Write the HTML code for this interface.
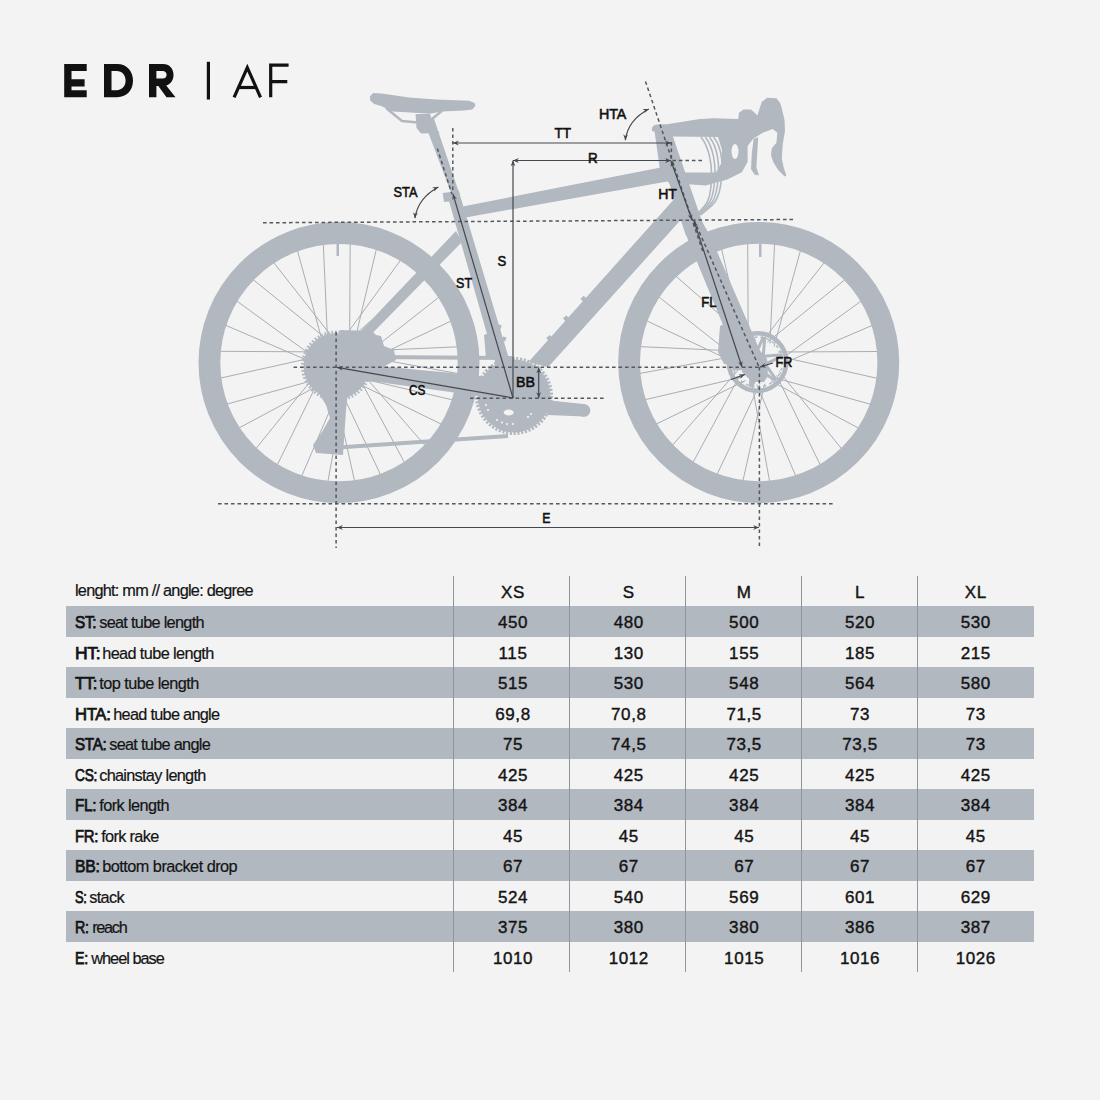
<!DOCTYPE html><html><head><meta charset="utf-8"><style>
html,body{margin:0;padding:0;background:#f3f3f3;}
body{width:1100px;height:1100px;position:relative;overflow:hidden;font-family:"Liberation Sans",sans-serif;color:#141414;}
.t{position:absolute;white-space:nowrap;}
.stripe{position:absolute;left:66px;width:968px;height:30.5px;background:#b1b8c0;}
.vl{position:absolute;top:576px;height:396px;width:1px;background:#8f959c;}
.lab{font-size:16.3px;letter-spacing:-0.95px;-webkit-text-stroke:0.2px #141414;}
.ab{font-size:16.5px;letter-spacing:-0.3px;-webkit-text-stroke:0.75px #141414;}
.num{font-size:17px;text-align:center;width:100px;letter-spacing:0.6px;-webkit-text-stroke:0.4px #141414;}
svg{position:absolute;left:0;top:0;}
</style></head><body>

<div class="stripe" style="top:606.0px"></div>
<div class="stripe" style="top:667.0px"></div>
<div class="stripe" style="top:728.0px"></div>
<div class="stripe" style="top:789.0px"></div>
<div class="stripe" style="top:850.0px"></div>
<div class="stripe" style="top:911.0px"></div>
<div class="vl" style="left:453px"></div>
<div class="vl" style="left:569px"></div>
<div class="vl" style="left:685px"></div>
<div class="vl" style="left:801px"></div>
<div class="vl" style="left:917px"></div>
<div class="t lab" style="left:75px;top:581px;letter-spacing:-0.754px">lenght: mm // angle: degree</div>
<div class="t num" style="left:463px;top:583px">XS</div>
<div class="t num" style="left:578.8px;top:583px">S</div>
<div class="t num" style="left:694.2px;top:583px">M</div>
<div class="t num" style="left:810px;top:583px">L</div>
<div class="t num" style="left:925.8px;top:583px">XL</div>
<div class="t lab ab" style="left:75px;top:613.0px;transform:scaleX(0.9280);transform-origin:0 0">ST:</div>
<div class="t lab" style="left:99.20px;top:613.0px;letter-spacing:-0.700px">seat tube length</div>
<div class="t num" style="left:463px;top:613.0px">450</div>
<div class="t num" style="left:578.8px;top:613.0px">480</div>
<div class="t num" style="left:694.2px;top:613.0px">500</div>
<div class="t num" style="left:810px;top:613.0px">520</div>
<div class="t num" style="left:925.8px;top:613.0px">530</div>
<div class="t lab ab" style="left:75px;top:643.5px;transform:scaleX(1.0604);transform-origin:0 0">HT:</div>
<div class="t lab" style="left:102.20px;top:643.5px;letter-spacing:-0.613px">head tube length</div>
<div class="t num" style="left:463px;top:643.5px">115</div>
<div class="t num" style="left:578.8px;top:643.5px">130</div>
<div class="t num" style="left:694.2px;top:643.5px">155</div>
<div class="t num" style="left:810px;top:643.5px">185</div>
<div class="t num" style="left:925.8px;top:643.5px">215</div>
<div class="t lab ab" style="left:75px;top:674.0px;transform:scaleX(1.0039);transform-origin:0 0">TT:</div>
<div class="t lab" style="left:99.20px;top:674.0px;letter-spacing:-0.543px">top tube length</div>
<div class="t num" style="left:463px;top:674.0px">515</div>
<div class="t num" style="left:578.8px;top:674.0px">530</div>
<div class="t num" style="left:694.2px;top:674.0px">548</div>
<div class="t num" style="left:810px;top:674.0px">564</div>
<div class="t num" style="left:925.8px;top:674.0px">580</div>
<div class="t lab ab" style="left:75px;top:704.5px;transform:scaleX(1.0093);transform-origin:0 0">HTA:</div>
<div class="t lab" style="left:113.20px;top:704.5px;letter-spacing:-0.707px">head tube angle</div>
<div class="t num" style="left:463px;top:704.5px">69,8</div>
<div class="t num" style="left:578.8px;top:704.5px">70,8</div>
<div class="t num" style="left:694.2px;top:704.5px">71,5</div>
<div class="t num" style="left:810px;top:704.5px">73</div>
<div class="t num" style="left:925.8px;top:704.5px">73</div>
<div class="t lab ab" style="left:75px;top:735.0px;transform:scaleX(0.9197);transform-origin:0 0">STA:</div>
<div class="t lab" style="left:109.20px;top:735.0px;letter-spacing:-0.700px">seat tube angle</div>
<div class="t num" style="left:463px;top:735.0px">75</div>
<div class="t num" style="left:578.8px;top:735.0px">74,5</div>
<div class="t num" style="left:694.2px;top:735.0px">73,5</div>
<div class="t num" style="left:810px;top:735.0px">73,5</div>
<div class="t num" style="left:925.8px;top:735.0px">73</div>
<div class="t lab ab" style="left:75px;top:765.5px;transform:scaleX(0.8305);transform-origin:0 0">CS:</div>
<div class="t lab" style="left:99.20px;top:765.5px;letter-spacing:-0.700px">chainstay length</div>
<div class="t num" style="left:463px;top:765.5px">425</div>
<div class="t num" style="left:578.8px;top:765.5px">425</div>
<div class="t num" style="left:694.2px;top:765.5px">425</div>
<div class="t num" style="left:810px;top:765.5px">425</div>
<div class="t num" style="left:925.8px;top:765.5px">425</div>
<div class="t lab ab" style="left:75px;top:796.0px;transform:scaleX(0.9279);transform-origin:0 0">FL:</div>
<div class="t lab" style="left:99.20px;top:796.0px;letter-spacing:-0.570px">fork length</div>
<div class="t num" style="left:463px;top:796.0px">384</div>
<div class="t num" style="left:578.8px;top:796.0px">384</div>
<div class="t num" style="left:694.2px;top:796.0px">384</div>
<div class="t num" style="left:810px;top:796.0px">384</div>
<div class="t num" style="left:925.8px;top:796.0px">384</div>
<div class="t lab ab" style="left:75px;top:826.5px;transform:scaleX(0.9031);transform-origin:0 0">FR:</div>
<div class="t lab" style="left:101.20px;top:826.5px;letter-spacing:-0.650px">fork rake</div>
<div class="t num" style="left:463px;top:826.5px">45</div>
<div class="t num" style="left:578.8px;top:826.5px">45</div>
<div class="t num" style="left:694.2px;top:826.5px">45</div>
<div class="t num" style="left:810px;top:826.5px">45</div>
<div class="t num" style="left:925.8px;top:826.5px">45</div>
<div class="t lab ab" style="left:75px;top:857.0px;transform:scaleX(0.9532);transform-origin:0 0">BB:</div>
<div class="t lab" style="left:102.20px;top:857.0px;letter-spacing:-0.517px">bottom bracket drop</div>
<div class="t num" style="left:463px;top:857.0px">67</div>
<div class="t num" style="left:578.8px;top:857.0px">67</div>
<div class="t num" style="left:694.2px;top:857.0px">67</div>
<div class="t num" style="left:810px;top:857.0px">67</div>
<div class="t num" style="left:925.8px;top:857.0px">67</div>
<div class="t lab ab" style="left:75px;top:887.5px;transform:scaleX(0.7800);transform-origin:0 0">S:</div>
<div class="t lab" style="left:89.20px;top:887.5px;letter-spacing:-0.625px">stack</div>
<div class="t num" style="left:463px;top:887.5px">524</div>
<div class="t num" style="left:578.8px;top:887.5px">540</div>
<div class="t num" style="left:694.2px;top:887.5px">569</div>
<div class="t num" style="left:810px;top:887.5px">601</div>
<div class="t num" style="left:925.8px;top:887.5px">629</div>
<div class="t lab ab" style="left:75px;top:918.0px;transform:scaleX(0.8613);transform-origin:0 0">R:</div>
<div class="t lab" style="left:92.20px;top:918.0px;letter-spacing:-1.300px">reach</div>
<div class="t num" style="left:463px;top:918.0px">375</div>
<div class="t num" style="left:578.8px;top:918.0px">380</div>
<div class="t num" style="left:694.2px;top:918.0px">380</div>
<div class="t num" style="left:810px;top:918.0px">386</div>
<div class="t num" style="left:925.8px;top:918.0px">387</div>
<div class="t lab ab" style="left:75px;top:948.5px;transform:scaleX(0.8600);transform-origin:0 0">E:</div>
<div class="t lab" style="left:91.20px;top:948.5px;letter-spacing:-0.967px">wheel base</div>
<div class="t num" style="left:463px;top:948.5px">1010</div>
<div class="t num" style="left:578.8px;top:948.5px">1012</div>
<div class="t num" style="left:694.2px;top:948.5px">1015</div>
<div class="t num" style="left:810px;top:948.5px">1016</div>
<div class="t num" style="left:925.8px;top:948.5px">1026</div>
<svg width="1100" height="1100" viewBox="0 0 1100 1100">
<g stroke="#a9adb2" stroke-width="1">
<line x1="327.7" y1="343.4" x2="323.3" y2="243.5"/>
<line x1="349.6" y1="343.0" x2="350.2" y2="243.0"/>
<line x1="353.6" y1="345.9" x2="376.5" y2="248.5"/>
<line x1="342.1" y1="340.5" x2="400.9" y2="259.7"/>
<line x1="346.9" y1="341.8" x2="422.3" y2="276.1"/>
<line x1="360.8" y1="358.6" x2="439.4" y2="296.8"/>
<line x1="361.1" y1="363.6" x2="451.5" y2="320.8"/>
<line x1="358.1" y1="351.2" x2="458.0" y2="346.8"/>
<line x1="360.1" y1="355.7" x2="458.5" y2="373.7"/>
<line x1="355.6" y1="377.1" x2="453.0" y2="400.0"/>
<line x1="352.0" y1="380.5" x2="441.8" y2="424.4"/>
<line x1="359.7" y1="370.4" x2="425.4" y2="445.8"/>
<line x1="357.5" y1="374.8" x2="404.7" y2="462.9"/>
<line x1="337.9" y1="384.6" x2="380.7" y2="475.0"/>
<line x1="333.0" y1="383.8" x2="354.7" y2="481.5"/>
<line x1="345.8" y1="383.6" x2="327.8" y2="482.0"/>
<line x1="340.9" y1="384.6" x2="301.5" y2="476.5"/>
<line x1="321.0" y1="375.5" x2="277.1" y2="465.3"/>
<line x1="318.6" y1="371.1" x2="255.7" y2="448.9"/>
<line x1="326.7" y1="381.0" x2="238.6" y2="428.2"/>
<line x1="322.9" y1="377.8" x2="226.5" y2="404.2"/>
<line x1="317.7" y1="356.5" x2="220.0" y2="378.2"/>
<line x1="319.5" y1="351.9" x2="219.5" y2="351.3"/>
<line x1="316.9" y1="364.4" x2="225.0" y2="325.0"/>
<line x1="317.0" y1="359.4" x2="236.2" y2="300.6"/>
<line x1="330.4" y1="342.1" x2="252.6" y2="279.2"/>
<line x1="335.1" y1="340.7" x2="273.3" y2="262.1"/>
<line x1="323.7" y1="346.4" x2="297.3" y2="250.0"/>
<line x1="770.0" y1="343.5" x2="774.6" y2="243.6"/>
<line x1="774.0" y1="346.5" x2="800.6" y2="250.1"/>
<line x1="762.6" y1="340.7" x2="824.6" y2="262.2"/>
<line x1="767.4" y1="342.1" x2="845.3" y2="279.4"/>
<line x1="780.7" y1="359.5" x2="861.6" y2="300.7"/>
<line x1="780.8" y1="364.4" x2="872.8" y2="325.2"/>
<line x1="778.2" y1="352.0" x2="878.2" y2="351.5"/>
<line x1="780.1" y1="356.6" x2="877.6" y2="378.4"/>
<line x1="774.7" y1="377.8" x2="871.1" y2="404.4"/>
<line x1="770.9" y1="381.0" x2="859.0" y2="428.4"/>
<line x1="779.1" y1="371.2" x2="841.8" y2="449.1"/>
<line x1="776.7" y1="375.5" x2="820.5" y2="465.4"/>
<line x1="756.8" y1="384.6" x2="796.0" y2="476.6"/>
<line x1="751.9" y1="383.6" x2="769.7" y2="482.0"/>
<line x1="764.6" y1="383.9" x2="742.8" y2="481.4"/>
<line x1="759.7" y1="384.6" x2="716.8" y2="474.9"/>
<line x1="740.2" y1="374.7" x2="692.8" y2="462.8"/>
<line x1="738.0" y1="370.3" x2="672.1" y2="445.6"/>
<line x1="745.7" y1="380.5" x2="655.8" y2="424.3"/>
<line x1="742.0" y1="377.1" x2="644.6" y2="399.8"/>
<line x1="737.6" y1="355.7" x2="639.2" y2="373.5"/>
<line x1="739.7" y1="351.2" x2="639.8" y2="346.6"/>
<line x1="736.6" y1="363.5" x2="646.3" y2="320.6"/>
<line x1="736.9" y1="358.6" x2="658.4" y2="296.6"/>
<line x1="750.9" y1="341.8" x2="675.6" y2="275.9"/>
<line x1="755.7" y1="340.5" x2="696.9" y2="259.6"/>
<line x1="744.1" y1="345.8" x2="721.4" y2="248.4"/>
<line x1="748.2" y1="343.0" x2="747.7" y2="243.0"/>
</g>
<g fill="none" stroke="#b1b8c0">
<circle cx="339" cy="362.6" r="129.6" stroke-width="21.8"/>
<circle cx="758.7" cy="362.5" r="129.6" stroke-width="21.8"/>
</g>
<g fill="#b1b8c0">
<rect x="336.5" y="244" width="2.5" height="12"/>
<rect x="759" y="244" width="2.5" height="13"/>
<polygon points="422.8,118.0 433.7,118.0 458.5,191.0 451.0,192.5"/>
<polygon points="446.9,193.7 506.5,402.1 520.8,397.9 458.5,190.3"/>
<polygon points="442.7,193.0 459.0,191.0 460.5,200.5 444.0,202.0"/>
<polygon points="455.0,208.0 662.0,167.3 670.0,181.0 460.0,218.5"/>
<polygon points="654.5,131.0 672.7,136.0 705.5,231.5 686.0,236.0 669.5,184.0 660.0,170.0"/>
<polygon points="680.5,192.0 681.5,219.0 548.0,367.3 528.5,362.0"/>
<polygon points="580.4,298.7 583.4,302.1 586.8,299.1 583.8,295.7"/>
<polygon points="563.0,318.3 566.0,321.7 569.4,318.7 566.4,315.3"/>
<polygon points="546.3,338.0 549.3,341.4 552.7,338.4 549.7,335.0"/>
<polygon points="497.2,328.6 500.4,329.6 501.8,325.4 498.6,324.4"/>
<polygon points="501.9,340.6 505.1,341.6 506.5,337.4 503.3,336.4"/>
<polygon points="484.7,304.6 487.9,305.6 489.3,301.4 486.1,300.4"/>
<polygon points="682.0,222.0 700.0,218.0 710.3,236.0 767.0,367.0 764.0,376.0 752.0,377.0 740.3,367.0 688.0,240.0"/>
<polygon points="456.0,231.0 462.0,242.0 348.0,358.0 340.0,353.0"/>
<polygon points="338.0,362.0 449.0,372.7 515.0,380.0 515.0,401.0 456.0,392.7 376.0,381.8 345.0,380.0"/>
<circle cx="514" cy="396" r="36.5"/>
<circle cx="514" cy="396" r="37.5" fill="none" stroke="#b1b8c0" stroke-width="3" stroke-dasharray="2.2 1.6"/>
<polygon points="531.6,398.5 585.7,404.3 584.0,416.6 548.0,415.0"/>
<circle cx="584" cy="410.5" r="6.3"/>
<ellipse cx="508.7" cy="412.5" rx="5" ry="3" fill="#f3f3f3"/>
<circle cx="486" cy="405" r="1.1" fill="#f3f3f3"/>
<circle cx="488" cy="410" r="1.1" fill="#f3f3f3"/>
<circle cx="497" cy="420" r="1.1" fill="#f3f3f3"/>
<circle cx="502" cy="422.5" r="1.1" fill="#f3f3f3"/>
<circle cx="507" cy="424" r="1.1" fill="#f3f3f3"/>
<circle cx="513" cy="424" r="1.1" fill="#f3f3f3"/>
<circle cx="528" cy="417" r="1.1" fill="#f3f3f3"/>
<circle cx="531" cy="414" r="1.1" fill="#f3f3f3"/>
<circle cx="336.5" cy="366" r="33"/>
<circle cx="336.5" cy="366" r="34" fill="none" stroke="#b1b8c0" stroke-width="3" stroke-dasharray="1.8 1.8"/>
<polygon points="318.0,392.0 348.0,392.0 346.0,410.0 345.0,425.0 344.0,440.0 343.0,455.0 316.0,453.0 313.0,445.0 322.0,432.0 330.0,418.0 326.0,405.0"/>
<path d="M340,330 L372,331 L376,335 L381,336 L384,346 L394,350 L396,360 L370,374 L345,374 Z"/>
<polygon points="484.0,335.0 492.0,332.0 499.0,356.0 486.0,358.0"/>
<path d="M369.8,96.4 L373.1,93.1 L381.8,93.6 L409,97.5 L436.3,99.6 L469,100.7 L474.5,102.9 L475.6,105.6 L472.3,109.4 L463.6,110.5 L441.8,111.6 L429.8,113.8 L414.5,112.7 L392.7,111.6 L381.8,106.2 L374.2,104 L370.4,100.7 Z"/>
<path d="M415.6,114 L430,114 L433,124 L439.5,133 L421,133.5 L416.5,128 Z"/>
<polyline fill="none" stroke="#b1b8c0" stroke-width="2.4" points="386,108 402,121 418,122.5"/>
<polyline fill="none" stroke="#b1b8c0" stroke-width="2.4" points="443,110 432,119"/>
<path d="M652,131 Q651,125 657,124.5 L667,124.3 L700,119.1 L713.6,118.2 L738.2,119.1 L739,112.7 L743.6,109.5 L751,109.5 L755.5,113.6 L757.3,115.5 L761.8,101.8 L767.3,97.7 L776.4,98.2 L780,102.7 L781.8,108.2 L784.5,120 L785,131 L782.7,144.5 L781.8,158.2 L783.6,167.3 L786.4,175.5 L784.5,176.4 L778.2,170 L773.6,162.7 L771,155.5 L771.8,148.2 L776.4,142.7 L777.3,132.7 L772.7,129 L762.7,132.7 L753,139 L747.6,146 L747.6,162 L741.8,172.3 L727.3,179.5 L705.5,185.4 L685,184 L684.7,172.5 L716,172.5 L721,164 L722,150 L718,137 L672.7,136.5 L667,135.5 Z"/>
<path d="M753.6,139 L758.2,137.3 L756.4,167.3 L759,175.5 L754.5,174.5 L751,169 L751.8,153.6 Z"/>
</g>
<ellipse cx="735" cy="151.5" rx="3.5" ry="7.5" fill="#f3f3f3"/>
<g fill="none" stroke="#b1b8c0" stroke-width="1.6">
<path d="M701.0,137 C709.0,147 713.0,165 711.0,186 S703.0,206 697.0,215"/>
<path d="M705.2,137 C713.2,147 716.8,165 714.1,186 S705.1,206 698.3,215"/>
<path d="M709.4,137 C717.4,147 720.6,165 717.3,186 S707.2,206 699.5,215"/>
<path d="M713.6,137 C721.6,147 724.3,165 720.5,186 S709.3,206 700.8,215"/>
</g>
<g fill="none" stroke="#b1b8c0" stroke-width="4">
<line x1="370" y1="357" x2="512" y2="358"/>
<line x1="316" y1="449" x2="508" y2="436"/>
</g>
<circle cx="757.5" cy="362" r="28.8" fill="none" stroke="#b1b8c0" stroke-width="4.5"/>
<circle cx="757.5" cy="362" r="25" fill="none" stroke="#b1b8c0" stroke-width="1.5" stroke-dasharray="3 3"/>
<line x1="765.2" y1="364.1" x2="776.3" y2="379.9" stroke="#b1b8c0" stroke-width="3"/>
<line x1="765.2" y1="364.1" x2="782.8" y2="355.9" stroke="#b1b8c0" stroke-width="3"/>
<line x1="759.6" y1="369.7" x2="751.4" y2="387.3" stroke="#b1b8c0" stroke-width="3"/>
<line x1="759.6" y1="369.7" x2="775.4" y2="380.8" stroke="#b1b8c0" stroke-width="3"/>
<line x1="751.8" y1="367.7" x2="732.6" y2="369.3" stroke="#b1b8c0" stroke-width="3"/>
<line x1="751.8" y1="367.7" x2="750.2" y2="386.9" stroke="#b1b8c0" stroke-width="3"/>
<line x1="749.8" y1="359.9" x2="738.7" y2="344.1" stroke="#b1b8c0" stroke-width="3"/>
<line x1="749.8" y1="359.9" x2="732.2" y2="368.1" stroke="#b1b8c0" stroke-width="3"/>
<line x1="755.4" y1="354.3" x2="763.6" y2="336.7" stroke="#b1b8c0" stroke-width="3"/>
<line x1="755.4" y1="354.3" x2="739.6" y2="343.2" stroke="#b1b8c0" stroke-width="3"/>
<line x1="763.2" y1="356.3" x2="782.4" y2="354.7" stroke="#b1b8c0" stroke-width="3"/>
<line x1="763.2" y1="356.3" x2="764.8" y2="337.1" stroke="#b1b8c0" stroke-width="3"/>
<circle cx="757.5" cy="362" r="10" fill="#b1b8c0"/>
<path fill="#b1b8c0" d="M741,350 L752,340 L767,360 L768,376 L764,382 L752,382 L742,372 Z"/>
<path fill="#b1b8c0" d="M720,326 L728,322 L733,330 L738,345 L740,362 L735,366 L724,364 L718,352 Z"/>
<g fill="none" stroke="#55585d" stroke-width="1.5" stroke-dasharray="3.6 2.9">
<line x1="263" y1="222.8" x2="794" y2="219.5"/>
<line x1="293.5" y1="367.3" x2="759.4" y2="367.3"/>
<line x1="470" y1="398.2" x2="604" y2="398.2"/>
<line x1="218" y1="503.7" x2="835" y2="503.7"/>
<line x1="336.1" y1="332" x2="336.1" y2="548"/>
<line x1="759.4" y1="367" x2="759.4" y2="547"/>
<line x1="452.8" y1="128" x2="452.8" y2="193"/>
<line x1="671.4" y1="142" x2="671.4" y2="161"/>
<line x1="645.5" y1="81.4" x2="703" y2="252"/>
<line x1="694" y1="220" x2="759" y2="367"/>
<line x1="437.3" y1="148.4" x2="452" y2="194.2"/>
<line x1="702" y1="160.5" x2="671" y2="160.5"/>
</g>
<g fill="none" stroke="#45484e" stroke-width="1.2">
<line x1="453" y1="143" x2="671" y2="143"/>
<polygon fill="#45484e" stroke="none" points="671.0,143.0 665.2,145.4 667.0,143.0 665.2,140.6"/>
<polygon fill="#45484e" stroke="none" points="453.0,143.0 458.8,140.6 457.0,143.0 458.8,145.4"/>
<line x1="513" y1="160.5" x2="671" y2="160.5"/>
<polygon fill="#45484e" stroke="none" points="671.0,160.5 665.2,162.9 667.0,160.5 665.2,158.1"/>
<polygon fill="#45484e" stroke="none" points="513.0,160.5 518.8,158.1 517.0,160.5 518.8,162.9"/>
<line x1="513" y1="398" x2="513" y2="160.5"/>
<polygon fill="#45484e" stroke="none" points="513.0,160.5 515.4,166.3 513.0,164.5 510.6,166.3"/>
<line x1="513" y1="398" x2="453" y2="194"/>
<polygon fill="#45484e" stroke="none" points="453.0,194.0 456.9,198.9 454.1,197.8 452.3,200.2"/>
<line x1="671" y1="161" x2="692" y2="220"/>
<polygon fill="#45484e" stroke="none" points="692.0,220.0 687.8,215.3 690.7,216.2 692.3,213.7"/>
<polygon fill="#45484e" stroke="none" points="671.0,161.0 675.2,165.7 672.3,164.8 670.7,167.3"/>
<line x1="694" y1="221" x2="742" y2="367"/>
<polygon fill="#45484e" stroke="none" points="742.0,367.0 737.9,362.2 740.8,363.2 742.5,360.7"/>
<polygon fill="#45484e" stroke="none" points="694.0,221.0 698.1,225.8 695.2,224.8 693.5,227.3"/>
<line x1="513" y1="398" x2="337" y2="367.3"/>
<polygon fill="#45484e" stroke="none" points="337.0,367.3 343.1,365.9 340.9,368.0 342.3,370.7"/>
<line x1="538.7" y1="367.5" x2="538.7" y2="398"/>
<polygon fill="#45484e" stroke="none" points="538.7,398.0 536.3,392.2 538.7,394.0 541.1,392.2"/>
<polygon fill="#45484e" stroke="none" points="538.7,367.5 541.1,373.3 538.7,371.5 536.3,373.3"/>
<line x1="337" y1="527.5" x2="759" y2="527.5"/>
<polygon fill="#45484e" stroke="none" points="759.0,527.5 753.2,529.9 755.0,527.5 753.2,525.1"/>
<polygon fill="#45484e" stroke="none" points="337.0,527.5 342.8,525.1 341.0,527.5 342.8,529.9"/>
<line x1="773" y1="363" x2="760" y2="367"/>
<polygon fill="#45484e" stroke="none" points="760.0,367.0 764.8,363.0 763.8,365.8 766.2,367.6"/>
<line x1="731" y1="379.5" x2="745" y2="374.5"/>
<polygon fill="#45484e" stroke="none" points="745.0,374.5 740.3,378.7 741.2,375.8 738.7,374.2"/>
<path d="M438.4,187 Q418,198 414.9,218.2"/>
<polygon fill="#45484e" stroke="none" points="438.4,187.0 434.1,191.6 434.7,188.6 432.1,187.2"/>
<polygon fill="#45484e" stroke="none" points="414.9,218.2 413.0,212.2 415.2,214.2 417.8,212.6"/>
<path d="M648.8,109 Q628,120 625.3,140.2"/>
<polygon fill="#45484e" stroke="none" points="648.8,109.0 644.3,113.3 645.1,110.5 642.5,108.9"/>
<polygon fill="#45484e" stroke="none" points="625.3,140.2 623.2,134.3 625.5,136.2 628.0,134.5"/>
</g>
<g font-family="Liberation Sans" font-size="13.8" fill="#111" stroke="#111" stroke-width="0.55">
<text x="554.4" y="138.3" textLength="16.6" lengthAdjust="spacingAndGlyphs">TT</text>
<text x="588.1" y="162.5" textLength="9.7" lengthAdjust="spacingAndGlyphs">R</text>
<text x="598.9" y="119.2" textLength="27.5" lengthAdjust="spacingAndGlyphs">HTA</text>
<text x="658.2" y="199.2" textLength="18.8" lengthAdjust="spacingAndGlyphs">HT</text>
<text x="393.6" y="197.0" textLength="23.9" lengthAdjust="spacingAndGlyphs">STA</text>
<text x="497.6" y="266.1" textLength="8.7" lengthAdjust="spacingAndGlyphs">S</text>
<text x="456.1" y="288.4" textLength="16.0" lengthAdjust="spacingAndGlyphs">ST</text>
<text x="701.3" y="307.4" textLength="15.2" lengthAdjust="spacingAndGlyphs">FL</text>
<text x="775.6" y="367.4" textLength="16.7" lengthAdjust="spacingAndGlyphs">FR</text>
<text x="409.1" y="395.1" textLength="16.4" lengthAdjust="spacingAndGlyphs">CS</text>
<text x="516.1" y="387.4" textLength="19.0" lengthAdjust="spacingAndGlyphs">BB</text>
<text x="542.3" y="523.4" textLength="8.2" lengthAdjust="spacingAndGlyphs">E</text>
</g>
<g fill="#111">
<path d="M64.2,63.9 H86.7 V71 H71.5 V79.2 H84.6 V86.4 H71.5 V90.2 H86.7 V97.3 H64.2 Z"/>
<path fill-rule="evenodd" d="M104,63.9 H117 C127.5,63.9 133,71.5 133,80.6 C133,89.7 127.5,97.3 117,97.3 H104 Z M111.5,71 H116.5 C122.3,71 125.6,75.2 125.6,80.6 C125.6,86 122.3,90.2 116.5,90.2 H111.5 Z"/>
<path fill-rule="evenodd" d="M149,63.9 H163 C169.6,63.9 173.5,68.6 173.5,75 C173.5,80.3 170.6,84.3 166.2,85.5 L175.5,97.3 H166.5 L158.3,86 H156.4 V97.3 H149 Z M156.4,71 H162.6 C165.3,71 166.6,72.8 166.6,74.8 C166.6,76.8 165.3,78.6 162.6,78.6 H156.4 Z"/>
<rect x="206.8" y="61.8" width="3.2" height="37.7"/>
</g>
<g fill="none" stroke="#111" stroke-width="3.2" stroke-linejoin="miter" stroke-miterlimit="10">
<path d="M234.1,97.3 L247.3,67.6 L260.5,97.3"/>
<path d="M239.2,87.5 H255.6"/>
<path d="M270.7,97.3 V65.2 H288.6 M270.7,81.6 H287.3"/>
</g>
</svg>
</body></html>
